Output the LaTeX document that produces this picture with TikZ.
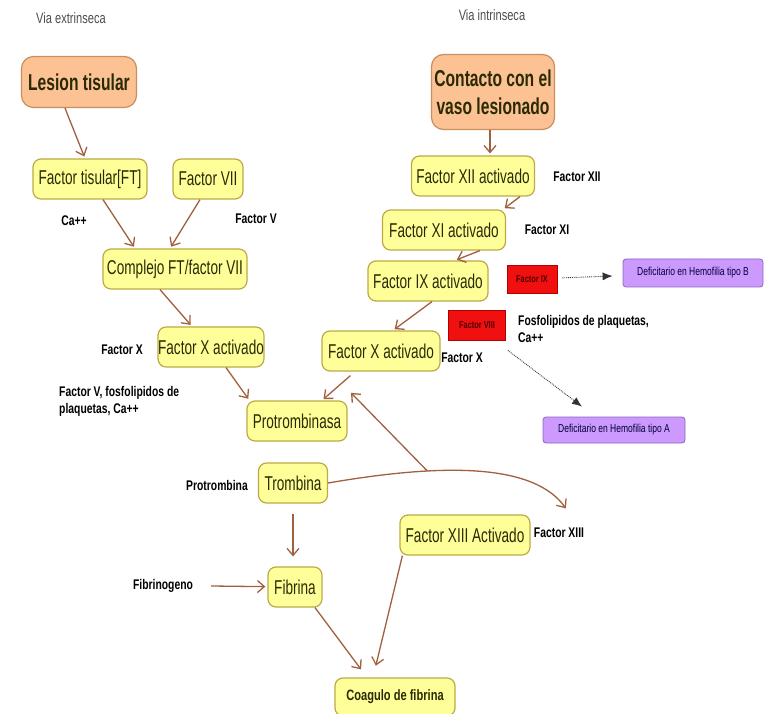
\documentclass[tikz,border=0pt]{standalone}
\usepackage{fontspec}
\setmainfont{Liberation Sans}
\newfontfamily\boxfont[FakeStretch=0.68]{Liberation Sans}
\newfontfamily\labfont[FakeStretch=0.74]{Liberation Sans}
\usetikzlibrary{arrows.meta}
\definecolor{boxyellow}{HTML}{FFFF99}
\definecolor{boxline}{HTML}{BBAA44}
\definecolor{orangefill}{HTML}{FCC293}
\definecolor{orangeline}{HTML}{C98E5C}
\definecolor{redfill}{HTML}{F01010}
\definecolor{redline}{HTML}{B00000}
\definecolor{lilac}{HTML}{CC99FF}
\definecolor{lilacline}{HTML}{8A66BB}
\definecolor{brownarrow}{HTML}{A0603E}
\definecolor{boxtext}{HTML}{2A2A05}

\begin{document}
\begin{tikzpicture}[x=1pt,y=-1pt]
    \tikzstyle{factor}=[draw=boxline,fill=boxyellow,line width=1.2pt,rounded corners=8pt,minimum height=40pt,inner sep=0pt,text=boxtext,font=\boxfont\fontsize{20}{24}\selectfont]
    \tikzstyle{start}=[factor,draw=orangeline,fill=orangefill,rounded corners=12pt,align=center,font=\boxfont\bfseries\fontsize{23}{28}\selectfont]
    \tikzstyle{lab}=[inner sep=1pt,text=black,font=\labfont\bfseries\fontsize{14}{17}\selectfont]
    \tikzstyle{title}=[inner sep=1pt,text=black!70,font=\labfont\fontsize{15}{18}\selectfont]
    \tikzstyle{redbox}=[draw=redline,fill=redfill,line width=0.8pt,inner sep=0pt,text=red!30!black,font=\labfont\bfseries\fontsize{10}{12}\selectfont]
    \tikzstyle{lilacbox}=[draw=lilacline,fill=lilac,line width=0.8pt,rounded corners=3pt,inner sep=0pt,text=black!80!blue,font=\labfont\fontsize{11.5}{13}\selectfont]
    \tikzstyle{arr}=[draw=brownarrow,line width=1.3pt,-{Straight Barb[length=7pt,width=12pt]},shorten >=2pt]
    \tikzstyle{dotarr}=[draw=black!80,densely dotted,line width=0.9pt,-{Latex[length=10pt,width=8pt]}]

    \useasboundingbox (0,0) rectangle (777,714);

    \node[title] (tExt) at (71,18) {Via extrinseca};
    \node[title] (tInt) at (492,15) {Via intrinseca};

    \node[start,minimum width=115pt,minimum height=51pt] (lesion) at (79,82) {Lesion tisular};
    \node[start,minimum width=123pt,minimum height=75pt] (contacto) at (493,92) {Contacto con el\\vaso lesionado};

    \foreach \name/\x/\y/\w/\txt in {ft/90/179/114/{Factor tisular[FT]}, f7/208/179/70/{Factor VII},
            complejo/175/269/144/{Complejo FT/factor VII}, xaL/211/347/105/{Factor X activado},
            protromb/297/421/100/{Protrombinasa}, trombina/293/483/69/{Trombina},
            fibrina/295/587/54/{Fibrina}, f13a/465/535/130/{Factor XIII Activado},
            f12a/473/176/123/{Factor XII activado}, f11a/444/230/123/{Factor XI activado},
            f9a/428/281/120/{Factor IX activado}, xaR/381/351/118/{Factor X activado}}
        \node[factor,minimum width=\w pt] (\name) at (\x,\y) {\txt};

    \node[factor,minimum width=120pt,minimum height=38pt,font=\labfont\bfseries\fontsize{15}{18}\selectfont] (coagulo) at (395,697) {Coagulo de fibrina};

    \foreach \name/\x/\y/\txt in {lca/74/221/Ca++, lfv/256/219/Factor V, lfx/122/350/Factor X,
            lprot/217/485/Protrombina, lfib/163/586/Fibrinogeno, lf13/559/533/Factor XIII,
            lf12/577/177/Factor XII, lf11/547/230/Factor XI, lfxr/462/358/Factor X}
        \node[lab] (\name) at (\x,\y) {\txt};

    \node[lab,anchor=west,align=left] (lfosfL) at (58,401) {Factor V, fosfolipidos de\\plaquetas, Ca++};
    \node[lab,anchor=west,align=left] (lfosfR) at (517,329) {Fosfolipidos de plaquetas,\\Ca++};

    \node[redbox,minimum width=50pt,minimum height=28pt] (r9) at (532,279) {Factor IX};
    \node[redbox,minimum width=57pt,minimum height=30pt] (r8) at (477,325) {Factor VIII};
    \node[lilacbox,minimum width=140pt,minimum height=28pt] (hB) at (693,273) {Deficitario en Hemofilia tipo B};
    \node[lilacbox,minimum width=142pt,minimum height=26pt] (hA) at (614,430) {Deficitario en Hemofilia tipo A};

    % via extrinseca
    \draw[arr] ([xshift=-14pt]lesion.south) -- ([xshift=-5pt]ft.north);
    \draw[arr] ([xshift=13pt]ft.south) -- ([xshift=-40pt]complejo.north);
    \draw[arr] ([xshift=-8pt]f7.south) -- ([xshift=-5pt]complejo.north);
    \draw[arr] ([xshift=-15pt]complejo.south) -- ([xshift=-19pt]xaL.north);
    \draw[arr] ([xshift=15pt]xaL.south) -- ([xshift=3pt]protromb.north west);

    % via intrinseca
    \draw[arr] ([xshift=-3pt]contacto.south) -- ([xshift=17pt]f12a.north);
    \draw[arr] ([xshift=47pt]f12a.south) -- ([xshift=-3pt]f11a.north east);
    \draw[arr] ([xshift=36pt]f11a.south) -- ([xshift=27pt]f9a.north);
    \draw[arr] ([xshift=4pt]f9a.south) -- ([xshift=12pt]xaR.north);
    \draw[arr,shorten <=6pt] ([xshift=-26pt]xaR.south) -- ([xshift=25pt]protromb.north);

    % via comun
    \coordinate (tipXIII) at (567,510);
    \draw[arr] (trombina.east) .. controls (450,462) and (535,465) .. coordinate[pos=0.3] (branch) (tipXIII);
    \draw[arr] (branch) -- ([shift={(2pt,9pt)}]protromb.north east);
    \draw[arr,shorten <=10pt,shorten >=10pt] (trombina.south) -- (trombina.south |- fibrina.north);
    \draw[arr] ([xshift=17pt]lfib.east) -- (fibrina);
    \draw[arr,shorten >=10pt] ([xshift=20pt]fibrina.south) -- ([xshift=-28pt]coagulo.north);
    \draw[arr,shorten >=12pt] ([xshift=3pt]f13a.south west) -- ([xshift=-22pt]coagulo.north);

    % hemofilias
    \draw[dotarr,shorten <=5pt,shorten >=10pt] (r9) -- (hB);
    \draw[dotarr] ([shift={(2pt,-10pt)}]r8.south east) -- ([shift={(-32pt,10pt)}]hA.north);
\end{tikzpicture}
\end{document}
